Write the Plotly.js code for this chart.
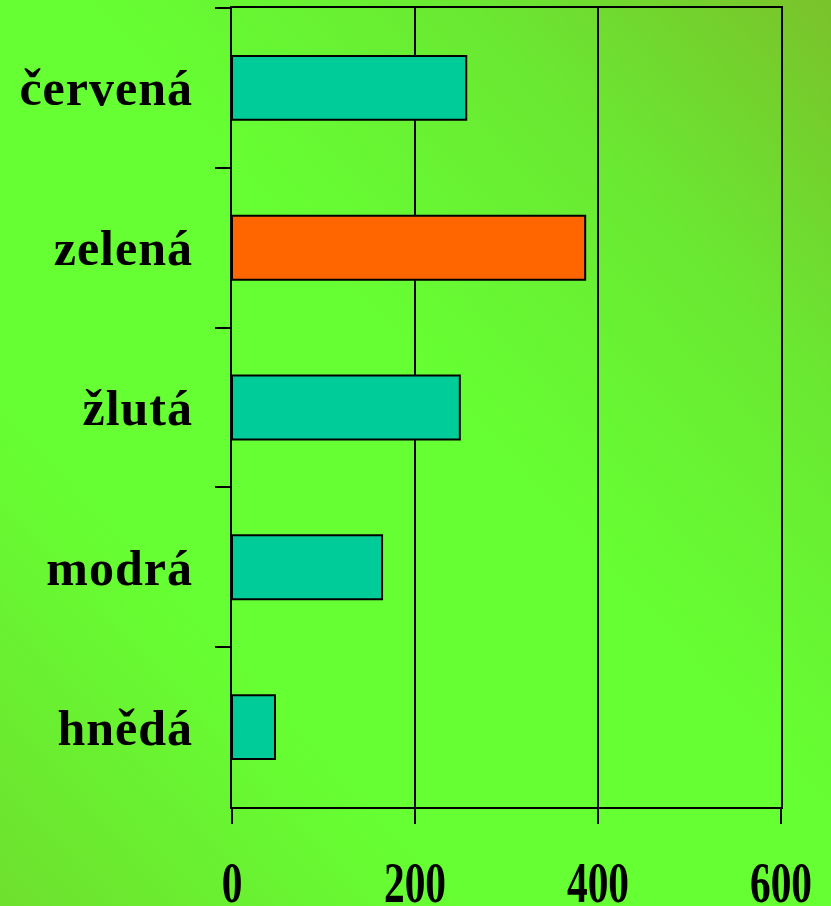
<!DOCTYPE html>
<html>
<head>
<meta charset="utf-8">
<script src="https://cdn.plot.ly/plotly-3.0.1.min.js"></script>
<style>
html, body { margin:0; padding:0; width:831px; height:906px; overflow:hidden; }
body { background: linear-gradient(to bottom left, #7ac22a 0%, #6ae832 22%, #66ff33 45%, #66ff33 72%, #6ee02e 100%); }
#chart { width:831px; height:906px; }
.ytick text { letter-spacing: 1px; }
</style>
</head>
<body>
<div id="chart"></div>
<script>
const categories = ["červená", "zelená", "žlutá", "modrá", "hnědá"];
const values = [256, 386, 249, 164, 47];
const barColors = ["#00CC99", "#FF6600", "#00CC99", "#00CC99", "#00CC99"];
const xTickValues = [0, 200, 400, 600];
const xTickLabels = ["0", "200", "400", "600"];

const trace = {
  type: "bar",
  orientation: "h",
  y: categories,
  x: values,
  marker: { color: barColors, line: { color: "#000000", width: 2 } },
  hoverinfo: "none"
};

const layout = {
  width: 831,
  height: 906,
  margin: { l: 232, r: 50, t: 8, b: 99 },
  paper_bgcolor: "rgba(0,0,0,0)",
  plot_bgcolor: "rgba(0,0,0,0)",
  showlegend: false,
  bargap: 0.6,
  font: { family: "Liberation Serif, Times New Roman, serif", color: "#000000" },
  xaxis: {
    range: [0, 600],
    tickvals: xTickValues,
    ticktext: xTickLabels,
    showgrid: true,
    gridcolor: "#000000",
    gridwidth: 2,
    zeroline: false,
    showline: true,
    linecolor: "#000000",
    linewidth: 2,
    mirror: true,
    ticks: "outside",
    ticklen: 15,
    tickwidth: 2,
    tickcolor: "#000000",
    ticklabelstandoff: 11,
    tickfont: { family: "Liberation Serif, serif", size: 56, color: "#000000", weight: "bold" },
    fixedrange: true
  },
  yaxis: {
    type: "category",
    autorange: "reversed",
    tickson: "boundaries",
    showgrid: false,
    zeroline: false,
    showline: true,
    linecolor: "#000000",
    linewidth: 2,
    mirror: true,
    ticks: "outside",
    ticklen: 15,
    tickwidth: 2,
    tickcolor: "#000000",
    ticklabelstandoff: 27,
    tickfont: { family: "Liberation Serif, serif", size: 50, color: "#000000", weight: "bold" },
    fixedrange: true
  }
};

Plotly.newPlot("chart", [trace], layout, { staticPlot: true, displayModeBar: false }).then(function () {
  document.querySelectorAll(".xtick text").forEach(function (t) {
    const bb = t.getBBox();
    const cx = bb.x + bb.width / 2;
    const prev = t.getAttribute("transform") || "";
    t.setAttribute("transform", prev + " translate(" + cx + ",0) scale(0.74,1) translate(" + (-cx) + ",0)");
  });
});
</script>
</body>
</html>
